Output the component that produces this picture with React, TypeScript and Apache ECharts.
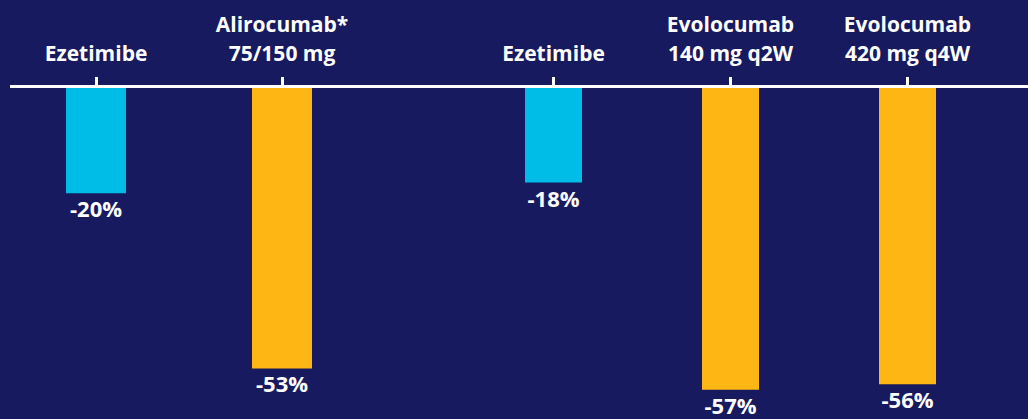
import React, { useEffect, useRef } from "react";
import * as echarts from "echarts";

const leftCategories = ["Ezetimibe", "Alirocumab*\n75/150 mg"];
const leftValues = [-20, -53];
const rightCategories = ["Ezetimibe", "Evolocumab\n140 mg q2W", "Evolocumab\n420 mg q4W"];
const rightValues = [-18, -57, -56];
const yMin = -60;
const yMax = 0;

const BG = "#171a5e";
const CYAN = "#00bde8";
const ORANGE = "#fdb614";
const FONT = "'Open Sans', 'Noto Sans', sans-serif";

const barColor = (name: string) => (name === "Ezetimibe" ? CYAN : ORANGE);

const makeXAxis = (gridIndex: number, data: string[]) => ({
  type: "category",
  gridIndex,
  position: "top",
  data,
  axisLine: { show: false },
  axisTick: {
    show: true,
    alignWithLabel: true,
    interval: 0,
    length: 10,
    lineStyle: { color: "#ffffff", width: 3 },
  },
  axisLabel: {
    interval: 0,
    margin: 20,
    color: "#ffffff",
    fontFamily: FONT,
    fontWeight: "bold",
    fontSize: 21,
    lineHeight: 29,
  },
  splitLine: { show: false },
});

const makeYAxis = (gridIndex: number) => ({
  type: "value",
  gridIndex,
  min: yMin,
  max: yMax,
  show: false,
});

const makeSeries = (idx: number, cats: string[], vals: number[], width: number) => ({
  type: "bar",
  xAxisIndex: idx,
  yAxisIndex: idx,
  barWidth: width,
  data: vals.map((v, i) => ({ value: v, itemStyle: { color: barColor(cats[i]) } })),
  label: {
    show: true,
    position: "bottom",
    distance: 4,
    formatter: (p: any) => `${p.value}%`,
    color: "#ffffff",
    fontFamily: FONT,
    fontWeight: "bold",
    fontSize: 22,
  },
});

export default function App() {
  const ref = useRef<HTMLDivElement>(null);
  useEffect(() => {
    if (!ref.current) return;
    const chart = echarts.init(ref.current, null, { renderer: "svg" });
    chart.setOption({
      animation: false,
      backgroundColor: BG,
      grid: [
        { left: 3, width: 372, top: 87, bottom: 13.4 },
        { left: 465, width: 531, top: 87, bottom: 13.4 },
      ],
      xAxis: [makeXAxis(0, leftCategories), makeXAxis(1, rightCategories)],
      yAxis: [makeYAxis(0), makeYAxis(1)],
      graphic: [
        {
          type: "line",
          shape: { x1: 10, y1: 86.5, x2: 1028, y2: 86.5 },
          style: { stroke: "#ffffff", lineWidth: 3 },
          z: 10,
        },
      ],
      series: [
        makeSeries(0, leftCategories, leftValues, 60),
        makeSeries(1, rightCategories, rightValues, 57),
      ],
    });
    return () => chart.dispose();
  }, []);
  return (
    <div
      ref={ref}
      style={{ position: "fixed", left: 0, top: 0, width: 1028, height: 419 }}
    />
  );
}
